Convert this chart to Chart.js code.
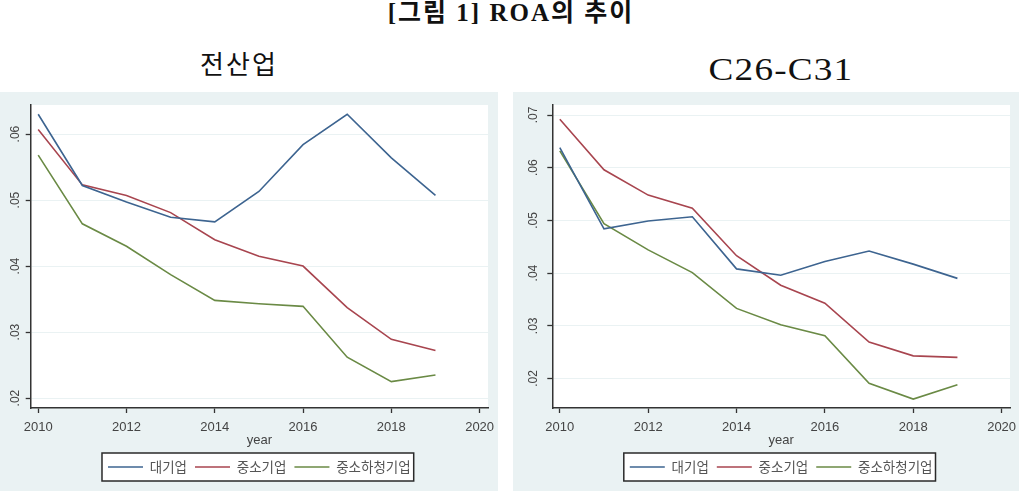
<!DOCTYPE html>
<html><head><meta charset="utf-8">
<script src="https://cdn.jsdelivr.net/npm/chart.js@4/dist/chart.umd.min.js"></script>
<style>
html,body{margin:0;padding:0;background:#fff;width:1019px;height:491px;overflow:hidden;}
.t{position:absolute;white-space:nowrap;color:#111;font-family:"Liberation Serif","Noto Sans CJK KR",serif;line-height:1;}
#title{left:511px;top:0px;font-size:25px;font-weight:bold;letter-spacing:2px;transform:translateX(-50%);}
#st1{left:239px;top:53px;font-size:26px;letter-spacing:2px;transform:translateX(-50%);}
#st2{left:781px;top:54px;font-size:31px;letter-spacing:1px;transform:translateX(-50%) scaleX(1.2);}
.panel{position:absolute;top:92px;height:399px;background:#eaf2f3;}
canvas{display:block;}
</style></head>
<body>
<div class="t" id="title">[그림 1] ROA의 추이</div>
<div class="t" id="st1">전산업</div>
<div class="t" id="st2">C26-C31</div>
<div class="panel" style="left:0;width:498px;"><canvas id="c1" width="498" height="399"></canvas></div>
<div class="panel" style="left:513px;width:506px;"><canvas id="c2" width="506" height="399"></canvas></div>
<script>
// ---- data ----
const years = [2010, 2011, 2012, 2013, 2014, 2015, 2016, 2017, 2018, 2019];
const xTicks = [2010, 2012, 2014, 2016, 2018, 2020];
const seriesNames = ['대기업', '중소기업', '중소하청기업'];
const yTicksAll = [0.02, 0.03, 0.04, 0.05, 0.06];
const yTicksC = [0.02, 0.03, 0.04, 0.05, 0.06, 0.07];
// 전산업
const allLarge = [0.0630, 0.0522, 0.0497, 0.0474, 0.0467, 0.0513, 0.0584, 0.0630, 0.0564, 0.0507];
const allSme   = [0.0607, 0.0523, 0.0507, 0.0481, 0.0440, 0.0415, 0.0400, 0.0337, 0.0289, 0.0272];
const allSub   = [0.0568, 0.0464, 0.0430, 0.0387, 0.0348, 0.0343, 0.0339, 0.0262, 0.0225, 0.0235];
// C26-C31
const cLarge = [0.0638, 0.0484, 0.0499, 0.0507, 0.0408, 0.0396, 0.0422, 0.0442, 0.0417, 0.0390];
const cSme   = [0.0692, 0.0596, 0.0548, 0.0523, 0.0433, 0.0377, 0.0343, 0.0269, 0.0243, 0.0240];
const cSub   = [0.0632, 0.0494, 0.0444, 0.0401, 0.0333, 0.0302, 0.0281, 0.0191, 0.0161, 0.0188];

const COLORS = ['#3d6490', '#a8454f', '#6a8a45'];
const AXIS = '#333333';
const GRID = '#eaf2f3';
const LEG_FONT = 13.5, LEG_PAD = 8;

const plotBg = {
  id: 'plotBg',
  beforeDraw(chart) {
    const {ctx, chartArea: a} = chart;
    ctx.save(); ctx.fillStyle = '#ffffff';
    ctx.fillRect(a.left, a.top, a.right - a.left, a.bottom - a.top);
    ctx.restore();
    const lg = chart.legend;
    if (lg) {
      lg.left = a.left; lg.right = a.right; lg.width = a.right - a.left;
      const W = lg.lineWidths[0];
      const x = (lg.left + LEG_PAD + lg.right - W) / 2;
      const x0 = x - 6, x1 = x + W - LEG_PAD + 3;
      const cy = lg.top + LEG_PAD + LEG_FONT / 2;
      ctx.save();
      ctx.fillStyle = '#ffffff'; ctx.strokeStyle = '#2a2a2a'; ctx.lineWidth = 1.5;
      ctx.fillRect(x0, cy - 14, x1 - x0, 28);
      ctx.strokeRect(x0, cy - 14, x1 - x0, 28);
      ctx.restore();
    }
  }
};

function ds(label, vals, color) {
  return { label, data: years.map((y, i) => ({x: y, y: vals[i]})), borderColor: color, backgroundColor: color,
           borderWidth: 1.6, pointRadius: 0, tension: 0, fill: false };
}

function makeChart(id, sets, yMin, yMax, yTicks, yWidth, yPad, padRight) {
  return new Chart(document.getElementById(id), {
    type: 'line',
    data: { datasets: sets.map((v, i) => ds(seriesNames[i], v, COLORS[i])) },
    options: {
      responsive: false, animation: false,
      layout: { padding: { left: 0, right: padRight, top: 13, bottom: 7.25 } },
      plugins: {
        tooltip: { enabled: false },
        legend: { position: 'bottom',
          labels: { usePointStyle: true, pointStyle: 'line', pointStyleWidth: 35, padding: LEG_PAD, color: '#555',
                    font: { family: '"Noto Sans CJK KR", sans-serif', size: LEG_FONT } } }
      },
      scales: {
        x: { type: 'linear', min: 2009.83, max: 2020.19,
             afterBuildTicks: s => { s.ticks = xTicks.map(v => ({value: v})); },
             afterFit: s => { s.height = 44.25; s.paddingLeft = 0; s.paddingRight = 0; },
             grid: { drawOnChartArea: false, tickLength: 5, tickColor: AXIS, tickWidth: 1.3 },
             border: { color: AXIS, width: 1.5 },
             ticks: { autoSkip: false, maxRotation: 0, padding: 6.5, color: '#444',
                      font: { family: 'Liberation Sans', size: 13 }, callback: v => String(v) },
             title: { display: true, text: 'year', color: '#444', font: { family: 'Liberation Sans', size: 13 },
                      padding: { top: 0, bottom: 3.75 } } },
        y: { min: yMin, max: yMax,
             afterBuildTicks: s => { s.ticks = yTicks.map(v => ({value: v})); },
             afterFit: s => { s.width = yWidth; s.paddingTop = 0; s.paddingBottom = 0; },
             grid: { color: GRID, lineWidth: 1, tickLength: 5, tickColor: AXIS, tickWidth: 1.3 },
             border: { color: AXIS, width: 1.5 },
             ticks: { minRotation: 90, maxRotation: 90, crossAlign: 'center', padding: yPad, color: '#444',
                      font: { family: 'Liberation Sans', size: 12 }, callback: v => v.toFixed(2).slice(1) } }
      }
    },
    plugins: [plotBg]
  });
}

makeChart('c1', [allLarge, allSme, allSub], 0.0185, 0.0644, yTicksAll, 30.7, 2, 10);
makeChart('c2', [cLarge, cSme, cSub], 0.0144, 0.0719, yTicksC, 39.3, 5, 9);
</script>
</body></html>
